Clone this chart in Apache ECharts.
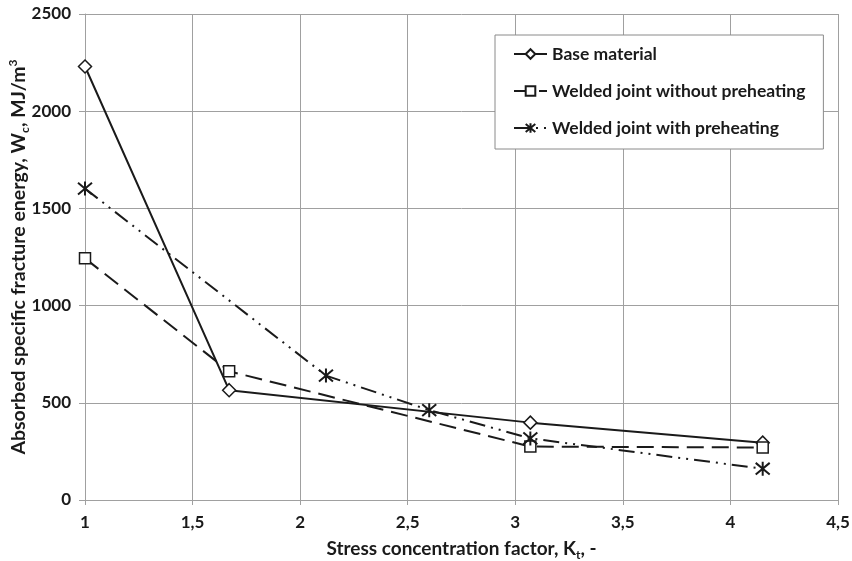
<!DOCTYPE html>
<html>
<head>
<meta charset="utf-8">
<script src="https://cdn.jsdelivr.net/npm/echarts@6/dist/echarts.min.js"></script>
<style>
  html, body { margin: 0; padding: 0; background: #fff; }
  #chart { width: 852px; height: 561px; }
</style>
</head>
<body>
<div id="chart"></div>
<script>
// data
const seriesNames = ['Base material', 'Welded joint without preheating', 'Welded joint with preheating']
const baseKt = [1, 1.67, 3.07, 4.15]
const baseW = [2230, 565, 398, 295]
const noPreKt = [1, 1.67, 3.07, 4.15]
const noPreW = [1243, 662, 275, 270]
const preKt = [1, 2.12, 2.6, 3.07, 4.15]
const preW = [1602, 640, 462, 317, 161]
const xTicks = [1, 1.5, 2, 2.5, 3, 3.5, 4, 4.5]
const yTicks = [0, 500, 1000, 1500, 2000, 2500]

const font = 'Lato'
const ink = '#1a1a1a'
const gridGray = '#a0a0a0'

// asterisk marker (X + vertical bar)
const starPath = 'path://M0,0L10,10M10,0L0,10M5,-1L5,11'

const pairs = (xs, ys) => xs.map((x, i) => [x, ys[i]])

const chart = echarts.init(document.getElementById('chart'))

const mkSeries = (name, data, symbol, size, lineType, bw) => ({
  name,
  type: 'line',
  data,
  symbol,
  symbolSize: size,
  showSymbol: true,
  lineStyle: { color: ink, width: 2, type: lineType },
  itemStyle: { color: '#fff', borderColor: ink, borderWidth: bw },
  emphasis: { disabled: true },
  z: 3
})

chart.setOption({
  animation: false,
  backgroundColor: '#fff',
  textStyle: { fontFamily: font },
  grid: { left: 85, right: 14, top: 14, bottom: 61, containLabel: false, outerBoundsMode: 'none' },
  legend: {
    orient: 'vertical',
    left: 495,
    top: 35,
    width: 325,
    padding: [10, 18, 12, 18],
    itemGap: 19,
    itemWidth: 33,
    itemHeight: 12,
    backgroundColor: '#fff',
    borderColor: '#8a8a8a',
    borderWidth: 1,
    textStyle: { fontFamily: font, fontWeight: 'bold', fontSize: 17.5, color: ink },
    data: seriesNames
  },
  xAxis: {
    type: 'value',
    min: xTicks[0],
    max: xTicks[xTicks.length - 1],
    interval: 0.5,
    name: '{m|Stress concentration factor, K}{s|t}{m|, -}',
    nameLocation: 'middle',
    nameGap: 37,
    nameTextStyle: {
      rich: {
        m: { fontFamily: font, fontWeight: 'bold', fontSize: 19, color: ink, lineHeight: 24 },
        s: { fontFamily: font, fontWeight: 'bold', fontSize: 12, color: ink, lineHeight: 13, verticalAlign: 'bottom' }
      }
    },
    axisLine: { show: true, lineStyle: { color: gridGray } },
    axisTick: { show: true, length: 5, lineStyle: { color: gridGray } },
    axisLabel: {
      margin: 14,
      fontFamily: font, fontWeight: 'bold', fontSize: 17, color: ink,
      formatter: v => String(v).replace('.', ',')
    },
    splitLine: { show: true, lineStyle: { color: gridGray, width: 1 } }
  },
  yAxis: {
    type: 'value',
    min: yTicks[0],
    max: yTicks[yTicks.length - 1],
    interval: 500,
    name: '{m|Absorbed specific fracture energy, W}{s|c}{m|, MJ/m}{p|3}',
    nameLocation: 'middle',
    nameGap: 54,
    nameMoveOverlap: false,
    nameTextStyle: {
      rich: {
        m: { fontFamily: font, fontWeight: 'bold', fontSize: 19.5, color: ink, lineHeight: 24 },
        s: { fontFamily: font, fontWeight: 'bold', fontSize: 12, color: ink, lineHeight: 13, verticalAlign: 'bottom' },
        p: { fontFamily: font, fontWeight: 'bold', fontSize: 12, color: ink, lineHeight: 13, verticalAlign: 'top' }
      }
    },
    axisLine: { show: true, lineStyle: { color: gridGray } },
    axisTick: { show: true, length: 6, lineStyle: { color: gridGray } },
    axisLabel: {
      margin: 14, fontFamily: font, fontWeight: 'bold', fontSize: 17, color: ink,
      formatter: v => String(v)
    },
    splitLine: { show: true, lineStyle: { color: gridGray, width: 1 } }
  },
  series: [
    mkSeries(seriesNames[0], pairs(baseKt, baseW), 'diamond', 13, 'solid', 1.5),
    mkSeries(seriesNames[1], pairs(noPreKt, noPreW), 'rect', 11, [17, 8], 1.5),
    mkSeries(seriesNames[2], pairs(preKt, preW), starPath, 14, [16, 6, 2, 6, 2, 6], 2)
  ]
})

window.addEventListener('resize', () => chart.resize())
</script>
</body>
</html>
